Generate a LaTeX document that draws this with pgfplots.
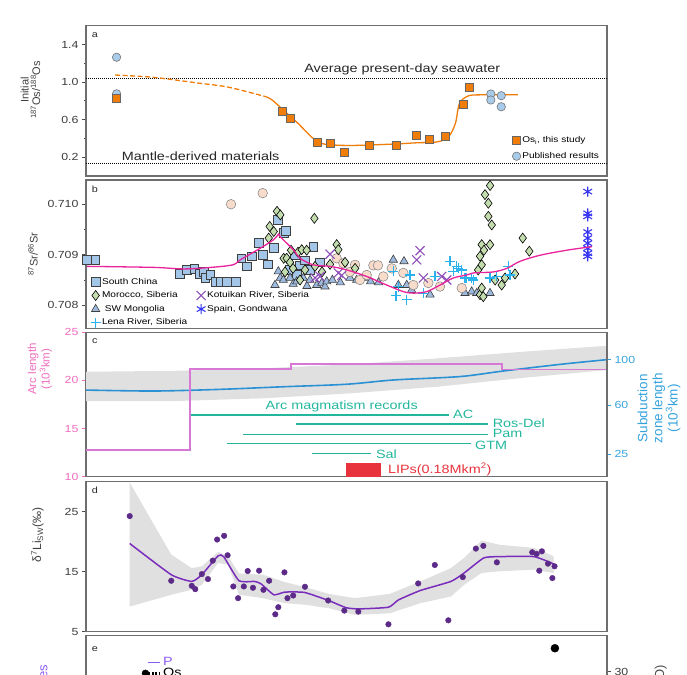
\documentclass[border=0pt]{standalone}
\usepackage{fontspec}
\setmainfont{Liberation Sans}[FakeStretch=1.2]
\newfontfamily\plainsans{Liberation Sans}
\usepackage{pgfplots}
\pgfplotsset{compat=1.18}

\definecolor{framegray}{HTML}{6E6E6E}
\definecolor{ticktext}{HTML}{3C3C3C}
\definecolor{osorange}{HTML}{F07D0A}
\definecolor{pubblue}{HTML}{A8CBEA}
\definecolor{scblue}{HTML}{A3C6E8}
\definecolor{mogreen}{HTML}{C4DDAE}
\definecolor{mongtri}{HTML}{9DB9DD}
\definecolor{lenacyan}{HTML}{2AB2EE}
\definecolor{kotpurple}{HTML}{8E4FBA}
\definecolor{spainblue}{HTML}{3434F2}
\definecolor{peach}{HTML}{F7DCCB}
\definecolor{srpink}{HTML}{E8239C}
\definecolor{arcpink}{HTML}{D678D4}
\definecolor{arctext}{HTML}{EE6CBE}
\definecolor{subblue}{HTML}{2A91D4}
\definecolor{subtext}{HTML}{35A2DD}
\definecolor{arcteal}{HTML}{22B79C}
\definecolor{lipred}{HTML}{E8323C}
\definecolor{bandgray}{HTML}{E0E0E0}
\definecolor{lipurple}{HTML}{7A2CBD}
\definecolor{lidot}{HTML}{5C2A88}
\definecolor{epurple}{HTML}{8B5CF0}

\newcommand\tickfont{\fontsize{10.3}{12}\selectfont}
\newcommand\annfont{\fontsize{12}{14}\selectfont}
\newcommand\legfont{\fontsize{8.4}{9.5}\selectfont}

\tikzset{
  panlab/.style={font=\fontsize{9}{10}\selectfont, text=black!85, anchor=center},
  ylab/.style={rotate=90, align=center, anchor=center, text=black!75},
}
\pgfplotsset{
  /pgf/number format/assume math mode=true,
  panel/.style={scale only axis, width=521pt, anchor=south west, xmin=0, xmax=100, xtick=\empty,
     axis line style={framegray, line width=1.1pt},
     ytick pos=left, tick align=outside, major tick length=4pt, minor tick length=2.5pt,
     tick style={black!70, line width=0.9pt},
     yticklabel style={font=\tickfont, text=ticktext},
     scaled y ticks=false, clip mode=individual},
  scsty/.style={only marks, mark=square*, mark size=4.4pt, mark options={fill=scblue, draw=black!75, line width=0.6pt}},
  mosty/.style={only marks, mark=diamond*, mark size=5pt, mark options={fill=mogreen, draw=black, line width=0.6pt}},
  trsty/.style={only marks, mark=triangle*, mark size=4.8pt, mark options={fill=mongtri, draw=black!75, line width=0.6pt}},
  lesty/.style={only marks, color=lenacyan, mark=+, mark size=5pt, mark options={draw=lenacyan, line width=1.2pt}},
  kosty/.style={only marks, color=kotpurple, mark=x, mark size=6.4pt, mark options={draw=kotpurple, line width=1.1pt}},
  spsty/.style={only marks, color=spainblue, mark=asterisk, mark size=5pt, mark options={draw=spainblue, line width=1.1pt}},
  pesty/.style={only marks, mark=*, mark size=4.8pt, mark options={fill=peach, draw=black!50, line width=0.5pt}},
  arcbar/.style={fill=arcteal, draw=none},
}

\begin{document}
\begin{tikzpicture}
\path[use as bounding box] (0pt,0pt) rectangle (687pt,674pt);
\clip (0pt,0pt) rectangle (687pt,674pt);

% ---------------- panel a ----------------
\begin{axis}[panel, at={(86pt,498pt)}, height=150.3pt, ymin=0, ymax=1.6,
  ytick={0.2,0.6,1.0,1.4}, minor ytick={0.4,0.8,1.2},
  yticklabel style={/pgf/number format/.cd, fixed, fixed zerofill, precision=1},
  legend style={draw=none, fill=none, at={(rel axis cs:0.818,0.095)}, anchor=south west,
     font=\legfont, row sep=5pt, inner sep=0pt, nodes={inner sep=1.5pt}},
  legend cell align=left,
  legend image code/.code={\draw[#1] plot coordinates {(0pt,0pt)};}]
\addplot[black, dash pattern=on 1pt off 1pt, line width=0.7pt, forget plot] coordinates {(0,1.04) (100,1.04)};
\addplot[black, dash pattern=on 1pt off 1pt, line width=0.7pt, forget plot] coordinates {(0,0.13) (100,0.13)};
\addplot[osorange, dash pattern=on 5pt off 2.5pt, line width=1.3pt, forget plot, smooth] coordinates {(5.6,1.075) (13.0,1.05) (21.4,0.99) (27.3,0.946) (34.4,0.846)};
\addplot[osorange, line width=1.3pt, smooth, tension=0.5, forget plot] coordinates {(34.4,0.846) (35.7,0.81) (38.2,0.686) (40.7,0.56) (43.6,0.40) (45.7,0.34) (50.8,0.325) (59.1,0.34) (63.3,0.353) (67.5,0.364) (69.6,0.418) (70.9,0.56) (71.7,0.775) (73.4,0.853) (75.9,0.864) (82.9,0.864)};
\addplot[only marks, mark=*, mark size=4.2pt, mark options={fill=pubblue, draw=black!55, line width=0.6pt}, forget plot] coordinates {(5.87,1.264) (5.87,0.875) (77.7,0.873) (77.7,0.809) (79.7,0.855) (79.7,0.737)};
\addplot[only marks, mark=square*, mark size=4pt, mark options={fill=osorange, draw=black!60, line width=0.6pt}, forget plot] coordinates {(5.87,0.827) (37.75,0.686) (39.18,0.614) (44.30,0.354) (46.90,0.346) (49.58,0.257) (54.36,0.329) (59.48,0.329) (63.42,0.436) (65.94,0.389) (68.96,0.425) (72.48,0.766) (73.49,0.945)};
\addlegendimage{only marks, mark=square*, mark size=4pt, mark options={fill=osorange, draw=black!60, line width=0.6pt}}
\addlegendentry{Os\textsubscript{i}, this study}
\addlegendimage{only marks, mark=*, mark size=4.2pt, mark options={fill=pubblue, draw=black!55, line width=0.6pt}}
\addlegendentry{Published results}
\node[font=\annfont, text=black!85] at (axis cs:60.7,1.131) {Average present-day seawater};
\node[font=\annfont, text=black!85] at (axis cs:22.0,0.207) {Mantle-derived materials};
\node[panlab] at (rel axis cs:0.017,0.938) {a};
\node[ylab, font=\plainsans\fontsize{11}{11.5}\selectfont] at (axis description cs:-0.1065,0.572) {Initial\\\textsuperscript{187}Os/\textsuperscript{188}Os};
\end{axis}

% ---------------- panel b ----------------
\begin{axis}[panel, at={(86pt,345.5pt)}, height=148.5pt, xmin=-0.19, xmax=98.11, ymin=0.70754, ymax=0.71048,
  ytick={0.708,0.709,0.710}, minor ytick={0.7085,0.7095},
  yticklabel style={/pgf/number format/.cd, fixed, fixed zerofill, precision=3},
  legend columns=2,
  legend style={draw=none, fill=none, at={(rel axis cs:0.0085,0.35)}, anchor=north west,
     font=\legfont, row sep=3.2pt, inner sep=0pt, nodes={inner sep=1.4pt},
     /tikz/every even column/.append style={column sep=8pt}},
  legend cell align=left,
  legend image code/.code={\draw[#1] plot coordinates {(0pt,0pt)};}]
\addlegendimage{scsty}\addlegendentry{South China}
\addlegendimage{empty legend}\addlegendentry{}
\addlegendimage{mosty}\addlegendentry{Morocco, Siberia}
\addlegendimage{kosty}\addlegendentry{Kotuikan River, Siberia}
\addlegendimage{trsty}\addlegendentry{\ SW Mongolia}
\addlegendimage{spsty}\addlegendentry{Spain, Gondwana}
\addlegendimage{lesty}\addlegendentry{Lena River, Siberia}
% South China
\addplot[scsty, forget plot] coordinates {(0,0.70890) (1.57,0.70890) (17.49,0.70862) (18.87,0.70870) (20.25,0.70872) (21.26,0.70862) (22.02,0.70867) (22.32,0.70854) (23.26,0.70860) (24.21,0.70847) (25.15,0.70846) (26.42,0.70846) (28.11,0.70847) (29.11,0.70893) (30.19,0.70877) (31.13,0.70897) (32.40,0.70923) (33.21,0.70900) (34.15,0.70881) (35.23,0.70913) (36.04,0.70969) (37.11,0.70943) (37.5,0.70948) (38.3,0.70870) (39.25,0.70899) (39.6,0.70860) (40.19,0.70879) (41.13,0.70889) (42.08,0.70870) (42.70,0.70916) (43.96,0.70885)};
% SW Mongolia
\addplot[trsty, forget plot] coordinates {(35.47,0.70840) (36.09,0.70867) (36.47,0.70854) (37.04,0.70850) (38.3,0.70854) (38.9,0.70842) (39.57,0.70847) (40.82,0.70854) (41.5,0.70838) (42.08,0.70850) (43.34,0.70840) (44.28,0.70844) (44.9,0.70837) (45.23,0.70847) (46.3,0.70850) (47.8,0.70845) (49.62,0.70854) (50.88,0.70850) (52.13,0.70854) (53.5,0.70847) (55.0,0.70845) (57.79,0.70890) (59.81,0.70887) (58.74,0.70840) (60.32,0.70840) (61.25,0.70830) (64.72,0.70821) (71.32,0.70824) (72.58,0.70827) (73.53,0.70824) (76.04,0.70824)};
% circles (peach)
\addplot[pesty, forget plot] coordinates {(27.17,0.71000) (33.15,0.71022) (47.11,0.70893) (48.36,0.70883) (49.6,0.70866) (50.57,0.70880) (51.5,0.70850) (52.77,0.70860) (54.02,0.70879) (54.9,0.70879) (55.91,0.70857) (57.5,0.70873) (59.68,0.70864) (61.57,0.70840) (64.40,0.70844) (66.6,0.70837) (70.70,0.70834)};
% Morocco
\addplot[mosty, forget plot] coordinates {(34.28,0.70933) (34.47,0.70956) (35.23,0.70946) (35.85,0.70986) (36.47,0.70979) (37.11,0.70893) (37.36,0.70866) (37.68,0.70893) (38.3,0.70885) (38.5,0.70909) (38.87,0.70873) (39.81,0.70905) (40.19,0.70850) (40.51,0.70910) (41.13,0.70870) (41.45,0.70909) (42.9,0.70972) (43.02,0.70877) (44.34,0.70866) (45.85,0.70881) (47.11,0.70920) (47.42,0.70910) (48.68,0.70885) (50.57,0.70873) (73.8,0.70870) (74.15,0.70897) (74.15,0.70821) (74.47,0.70920) (74.47,0.70880) (74.47,0.70834) (74.77,0.70817) (74.9,0.70909) (75.09,0.71019) (75.72,0.71002) (75.72,0.70976) (76.04,0.71037) (76.04,0.70920) (76.36,0.70959) (77.0,0.70850) (78.24,0.70840) (78.87,0.70854) (80.75,0.70862) (82.21,0.70933) (83.45,0.70907)};
% Lena River
\addplot[lesty, forget plot] coordinates {(57.79,0.70867) (58.74,0.70837) (58.30,0.70819) (60.32,0.70811) (60.94,0.70860) (63.45,0.70824) (65.66,0.70857) (68.49,0.70887) (69.11,0.70867) (69.75,0.70877) (70.06,0.70873) (70.70,0.70870) (71.32,0.70854) (71.64,0.70854) (72.58,0.70854) (72.89,0.70850) (76.04,0.70854) (77.30,0.70857) (79.49,0.70877) (79.81,0.70860)};
% Kotuikan
\addplot[kosty, forget plot] coordinates {(43.02,0.70854) (43.96,0.70857) (45.85,0.70901) (47.42,0.70864) (48.06,0.70859) (62.21,0.70890) (62.83,0.70908) (63.45,0.70854) (66.92,0.70857) (67.87,0.70850)};
% Spain
\addplot[spsty, forget plot] coordinates {(94.47,0.71025) (94.47,0.70982) (94.47,0.70976) (94.47,0.70945) (94.47,0.70933) (94.47,0.70923) (94.47,0.70913) (94.47,0.70903) (94.47,0.70897)};
% curve
\addplot[srpink, line width=1.3pt, smooth, tension=0.5, forget plot] coordinates {(0,0.70877) (12.58,0.70875) (18.87,0.70872) (27.04,0.70879) (28.92,0.70890) (32.70,0.70913) (35.23,0.70930) (36.17,0.70941) (36.42,0.70936) (38.92,0.70910) (40.19,0.70893) (42.70,0.70880) (45.85,0.70877) (49.0,0.70870) (52.77,0.70857) (56.55,0.70840) (59.68,0.70827) (61.57,0.70824) (64.09,0.70827) (66.60,0.70840) (69.11,0.70854) (71.64,0.70860) (72.89,0.70864) (76.66,0.70866) (79.19,0.70873) (81.70,0.70887) (85.47,0.70899) (90.51,0.70909) (95.23,0.70916)};
\node[panlab] at (rel axis cs:0.017,0.94) {b};
\node[ylab, font=\plainsans\fontsize{11}{12}\selectfont] at (axis description cs:-0.1017,0.5) {\textsuperscript{87}Sr/\textsuperscript{86}Sr};
\end{axis}

% ---------------- panel c ----------------
\begin{axis}[panel, at={(86pt,197.3pt)}, height=144.4pt, ymin=10, ymax=25,
  ytick={10,15,20,25}, yticklabel style={text=arctext}, tick style={arctext, line width=0.9pt}]
\addplot[fill=bandgray, draw=none] coordinates {(0,20.9) (17.2,21.0) (33.98,21.26) (50.76,21.67) (67.53,22.3) (84.31,23.0) (100,23.6) (100,21.08) (84.31,20.29) (67.53,19.35) (50.76,18.66) (33.98,18.14) (17.2,17.86) (0,17.86)} -- cycle;
\addplot[color=subblue, line width=1.6pt, smooth] coordinates {(0,19.0) (13.0,18.9) (25.59,19.07) (38.17,19.35) (49.92,19.6) (59.14,20.05) (71.73,20.4) (80.12,20.98) (91.02,21.67) (100,22.16)};
\addplot[color=arcpink, line width=1.7pt, const plot] coordinates {(0,12.77) (19.9,21.19) (39.4,21.71) (79.9,21.15) (100,21.15)};
% arc magmatism records (bars 0.17 units high)
\addplot[arcbar] coordinates {(20.13,16.325) (69.63,16.325) (69.63,16.495) (20.13,16.495)} -- cycle;
\addplot[arcbar] coordinates {(40.27,15.415) (77.18,15.415) (77.18,15.585) (40.27,15.585)} -- cycle;
\addplot[arcbar] coordinates {(30.2,14.315) (77.18,14.315) (77.18,14.485) (30.2,14.485)} -- cycle;
\addplot[arcbar] coordinates {(27.1,13.345) (73.83,13.345) (73.83,13.515) (27.1,13.515)} -- cycle;
\addplot[arcbar] coordinates {(43.37,12.335) (54.78,12.335) (54.78,12.505) (43.37,12.505)} -- cycle;
\addplot[fill=lipred, draw=none] coordinates {(49.92,10) (56.63,10) (56.63,11.38) (49.92,11.38)} -- cycle;
\node[font=\annfont, text=arcteal] at (axis cs:49.08,17.35) {Arc magmatism records};
\node[font=\annfont, text=arcteal, anchor=west] at (axis cs:69.8,16.45) {AC};
\node[font=\annfont, text=arcteal, anchor=west] at (axis cs:77.4,15.6) {Ros-Del};
\node[font=\annfont, text=arcteal, anchor=west] at (axis cs:77.4,14.45) {Pam};
\node[font=\annfont, text=arcteal, anchor=west] at (axis cs:74.0,13.25) {GTM};
\node[font=\annfont, text=arcteal, anchor=west] at (axis cs:55.0,12.35) {Sal};
\node[font=\annfont, text=lipred, anchor=west] at (axis cs:57.3,10.75) {LIPs(0.18Mkm\textsuperscript{2})};
\node[panlab] at (rel axis cs:0.017,0.94) {c};
\node[ylab, font=\plainsans\fontsize{11.5}{13.5}\selectfont, text=arctext] at (axis description cs:-0.0883,0.746) {Arc length\\(10\textsuperscript{3}km)};
\node[ylab, font=\plainsans\fontsize{13.5}{15.2}\selectfont, text=subtext] at (axis description cs:1.0998,0.474) {Subduction\\zone length\\(10\textsuperscript{3}km)};
\end{axis}
\begin{axis}[scale only axis, width=521pt, height=144.4pt, at={(86pt,197.3pt)}, anchor=south west,
  xmin=0, xmax=100, ymin=10, ymax=25, axis x line=none, axis y line*=right,
  axis line style={framegray, line width=1.1pt}, tick align=outside, major tick length=4pt,
  ytick={22.16,17.45,12.35}, yticklabels={100,60,25},
  yticklabel style={font=\tickfont, text=subtext}, tick style={subtext, line width=0.9pt}]
\end{axis}

% ---------------- panel d ----------------
\begin{axis}[panel, at={(86pt,42.3pt)}, height=150pt, ymin=5, ymax=30, ytick={5,15,25}]
\addplot[fill=bandgray, draw=none] coordinates {(8.39,29.86) (16.36,17.85) (20.30,15.6) (22.23,15.9) (25.34,18.3) (27.27,17.57) (29.36,14.72) (33.98,14.5) (38.17,13.27) (42.36,12.37) (46.56,11.31) (51.59,10.59) (58.31,11.3) (64.18,13.38) (70.05,15.6) (72.57,17.3) (75.92,20.2) (79.28,19.5) (85.99,18.96) (89.77,17.57) (89.77,14.78) (85.99,15.34) (79.28,15.06) (75.92,14.78) (72.57,12.82) (70.05,10.87) (64.18,9.75) (58.31,8.07) (51.59,7.8) (46.56,8.91) (42.36,9.47) (38.17,9.75) (33.98,10.59) (29.36,11.15) (27.27,16.17) (25.34,16.45) (22.23,12.8) (20.30,12.0) (16.36,11.15) (8.39,9.19)} -- cycle;
\addplot[color=lipurple, line width=1.5pt, smooth, tension=0.3] coordinates {(8.39,19.7) (16.36,14.5) (20.30,13.38) (22.23,14.5) (25.34,17.63) (26.43,17.5) (29.36,13.49) (32.30,13.38) (33.56,13.0) (36.07,11.15) (38.17,11.6) (41.95,11.54) (46.56,10.2) (49.92,9.0) (52.43,8.8) (58.05,9.08) (59.98,10.3) (64.18,11.87) (70.05,13.38) (72.57,14.78) (76.34,17.29) (79.28,17.51) (85.99,17.51) (89.77,16.28)};
\addplot[only marks, mark=*, mark size=2.8pt, lidot] coordinates {(8.39,24.27) (16.36,13.49) (20.30,12.65) (20.97,12.09) (22.23,14.6) (23.41,13.77) (24.33,16.84) (25.17,20.36) (26.51,20.98) (27.18,17.74) (28.27,12.54) (29.19,10.59) (30.29,12.54) (31.04,15.11) (32.05,12.32) (33.22,15.17) (34.06,11.98) (35.15,13.49) (36.33,7.9) (36.91,9.08) (38.09,14.89) (38.67,10.59) (39.77,11.03) (42.03,12.49) (46.48,10.2) (49.58,8.52) (52.27,8.35) (58.05,6.23) (63.76,13.04) (66.95,16.12) (69.55,6.9) (72.32,14.1) (74.83,18.85) (76.26,19.3) (78.86,16.56) (85.65,18.24) (86.49,17.96) (87.50,18.4) (87.00,15.17) (88.67,16.34) (89.51,13.94) (89.93,15.9)};
\node[panlab] at (rel axis cs:0.017,0.94) {d};
\node[ylab, font=\plainsans\fontsize{12}{13}\selectfont] at (axis description cs:-0.093,0.645) {δ\textsuperscript{7}Li\textsubscript{SW}(‰)};
\end{axis}

% ---------------- panel e ----------------
\begin{axis}[panel, at={(86pt,-111.7pt)}, height=150pt, ymin=0, ymax=39.5, ytick=\empty,
  legend style={draw=none, fill=none, at={(rel axis cs:0.107,0.865)}, anchor=north west,
     font=\fontsize{12}{13}\selectfont, row sep=-2pt, inner sep=0pt, nodes={inner sep=1.5pt}},
  legend cell align=left]
\addlegendimage{legend image code/.code={\draw[epurple, line width=1.6pt] (3pt,0pt) -- (15pt,0pt);}}
\addlegendentry{\textcolor{epurple}{P}}
\addlegendimage{legend image code/.code={\draw[black, line width=2.4pt, dash pattern=on 2pt off 1.4pt] (3pt,0pt) -- (15pt,0pt); \draw[black, fill=black] plot[mark=*, mark size=3.5pt] coordinates {(0pt,0pt)};}}
\addlegendentry{Os}
\addplot[only marks, mark=*, mark size=4pt, black, forget plot] coordinates {(90.0,36.2)};
\node[panlab] at (rel axis cs:0.017,0.91) {e};
\node[rotate=90, anchor=east, font=\plainsans\fontsize{13}{14}\selectfont, text=epurple] at (axis description cs:-0.0806,0.827) {Relative changes};
\node[rotate=90, anchor=east, font=\plainsans\fontsize{13}{14}\selectfont, text=black!70] at (axis description cs:1.102,0.827) {Temperature (δ\textsuperscript{18}O)};
\end{axis}
\begin{axis}[scale only axis, width=521pt, height=150pt, at={(86pt,-111.7pt)}, anchor=south west,
  xmin=0, xmax=100, ymin=0, ymax=39.5, axis x line=none, axis y line*=right,
  axis line style={framegray, line width=1.1pt}, tick align=outside, major tick length=4pt,
  ytick={10,20,30}, yticklabel style={font=\tickfont, text=ticktext}, tick style={black!70, line width=0.9pt}]
\end{axis}
\end{tikzpicture}
\end{document}
